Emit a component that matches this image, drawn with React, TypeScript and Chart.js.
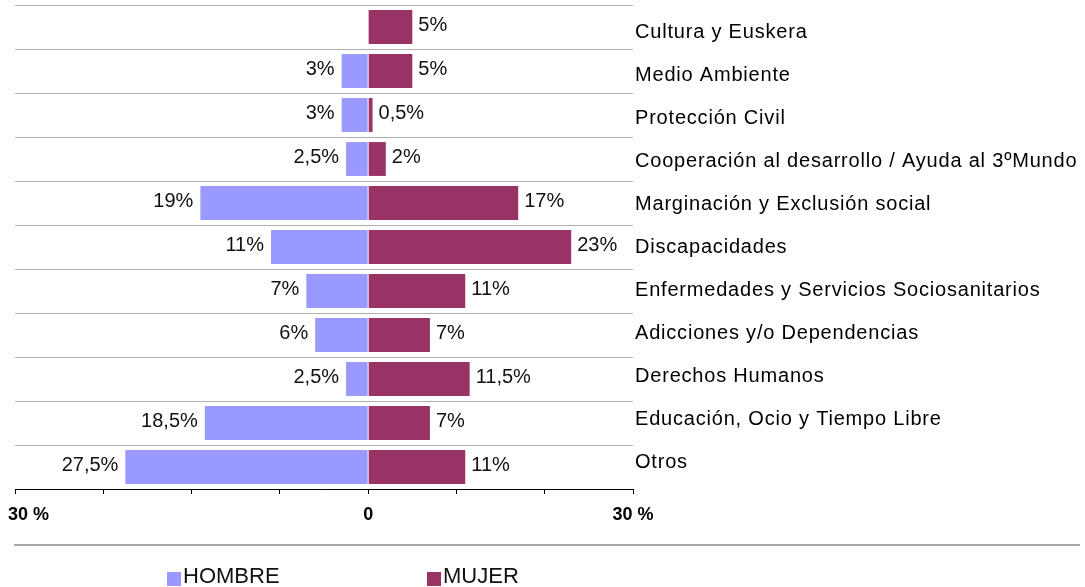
import React, { useEffect, useRef } from "react";
import { Chart, registerables } from "chart.js";

Chart.register(...registerables);

const categories = [
  "Cultura y Euskera",
  "Medio Ambiente",
  "Protección Civil",
  "Cooperación al desarrollo / Ayuda al 3ºMundo",
  "Marginación y Exclusión social",
  "Discapacidades",
  "Enfermedades y Servicios Sociosanitarios",
  "Adicciones y/o Dependencias",
  "Derechos Humanos",
  "Educación, Ocio y Tiempo Libre",
  "Otros",
];

const hombre: (number | null)[] = [null, 3, 3, 2.5, 19, 11, 7, 6, 2.5, 18.5, 27.5];
const mujer: (number | null)[] = [5, 5, 0.5, 2, 17, 23, 11, 7, 11.5, 7, 11];

const xTickValues = [-40, 0, 30];
const xTickLabels = ["30 %", "0", "30 %"];

const seriesNames = ["HOMBRE", "MUJER"];
const seriesColors = ["#9999FF", "#993366"];

const FONT = "'Liberation Sans', Arial, sans-serif";

const fmt = (v: number) => String(Math.abs(v)).replace(".", ",") + "%";

const customDraw = {
  id: "customDraw",
  afterDatasetsDraw(chart: any) {
    const ctx = chart.ctx;
    ctx.save();
    ctx.font = `20px ${FONT}`;
    ctx.fillStyle = "#111";
    ctx.textBaseline = "middle";
    chart.data.datasets.forEach((ds: any, di: number) => {
      const meta = chart.getDatasetMeta(di);
      meta.data.forEach((el: any, i: number) => {
        const v = ds.data[i];
        if (v === null || v === undefined) return;
        if (di === 0) {
          ctx.textAlign = "right";
          ctx.fillText(fmt(v), el.x - 7, el.y - 2);
        } else {
          ctx.textAlign = "left";
          ctx.fillText(fmt(v), el.x + 6, el.y - 2);
        }
      });
    });
    ctx.restore();
  },
  afterDraw(chart: any) {
    const ctx = chart.ctx;
    const xs = chart.scales.x;
    const ys = chart.scales.y;
    const area = chart.chartArea;
    ctx.save();
    // category labels (right side)
    ctx.letterSpacing = "0.8px";
    ctx.font = `20px ${FONT}`;
    ctx.fillStyle = "#000";
    ctx.textAlign = "left";
    ctx.textBaseline = "alphabetic";
    categories.forEach((c, i) => {
      const py = ys.getPixelForValue(i);
      const by = area.top + 11.5 + (py - area.top) * 0.977;
      ctx.fillText(c, area.right + 2, by);
    });
    ctx.letterSpacing = "0px";
    // x tick labels
    ctx.font = `bold 18px ${FONT}`;
    ctx.fillStyle = "#000";
    ctx.textBaseline = "middle";
    xTickValues.forEach((v, i) => {
      const px = xs.getPixelForValue(v);
      if (i === 0) {
        ctx.textAlign = "left";
        ctx.fillText(xTickLabels[i], px - 7, 515);
      } else {
        ctx.textAlign = "center";
        ctx.fillText(xTickLabels[i], px, 515);
      }
    });
    // separator line
    ctx.strokeStyle = "#a8a8a8";
    ctx.lineWidth = 2;
    ctx.beginPath();
    ctx.moveTo(14, 545);
    ctx.lineTo(1080, 545);
    ctx.stroke();
    // legend
    const legendX = [167, 427];
    ctx.font = `22px ${FONT}`;
    ctx.textAlign = "left";
    seriesNames.forEach((name, i) => {
      ctx.fillStyle = seriesColors[i];
      ctx.fillRect(legendX[i], 572, 14, 14);
      ctx.fillStyle = "#111";
      ctx.fillText(name, legendX[i] + 16, 577);
    });
    ctx.restore();
  },
};

export default function App() {
  const ref = useRef<HTMLCanvasElement | null>(null);
  useEffect(() => {
    if (!ref.current) return;
    const chart = new Chart(ref.current, {
      type: "bar",
      data: {
        labels: categories,
        datasets: [
          {
            label: seriesNames[0],
            data: hombre.map((v) => (v === null ? null : -v)),
            backgroundColor: seriesColors[0],
            barPercentage: 0.77,
            categoryPercentage: 1,
          },
          {
            label: seriesNames[1],
            data: mujer,
            backgroundColor: seriesColors[1],
            barPercentage: 0.77,
            categoryPercentage: 1,
          },
        ],
      },
      options: {
        indexAxis: "y",
        animation: false,
        responsive: true,
        maintainAspectRatio: false,
        layout: { padding: { left: 15, top: 5, right: 0, bottom: 0 } },
        plugins: {
          legend: { display: false },
          tooltip: { enabled: false },
        },
        scales: {
          x: {
            stacked: true,
            min: -40,
            max: 30,
            ticks: { stepSize: 10, display: false },
            grid: {
              drawOnChartArea: false,
              drawTicks: true,
              tickLength: 5,
              tickColor: "#000",
            },
            border: { display: true, color: "#000", width: 1 },
            afterFit: (s: any) => {
              s.height = 98;
              s.paddingLeft = 0;
              s.paddingRight = 0;
            },
          },
          y: {
            stacked: true,
            position: "right",
            grid: {
              color: "#b0b0b0",
              drawTicks: false,
              offset: true,
            },
            border: { display: false },
            ticks: { display: false, autoSkip: false },
            afterFit: (s: any) => {
              s.width = 452;
              s.paddingTop = 0;
              s.paddingBottom = 0;
            },
          },
        },
      },
      plugins: [customDraw],
    });
    return () => chart.destroy();
  }, []);
  return (
    <div style={{ position: "absolute", left: 0, top: 0, width: 1085, height: 587, background: "#fff" }}>
      <canvas ref={ref} />
    </div>
  );
}
